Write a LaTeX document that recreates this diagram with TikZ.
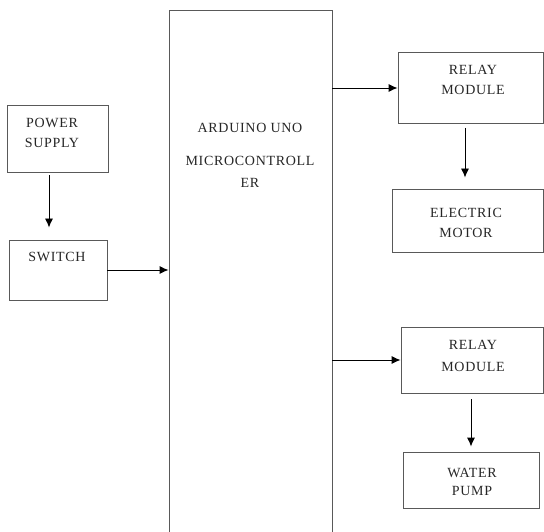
\documentclass[tikz,border=0pt]{standalone}
\usepackage{fontspec}
\setmainfont{Liberation Serif}[LetterSpace=5]
\usepackage{tikz}
\usetikzlibrary{arrows,arrows.meta,positioning}

\begin{document}
\begin{tikzpicture}[x=1pt,y=-1pt,->,>={Latex[length=9pt,width=8pt]},line width=0.9pt]
  \tikzstyle{block}=[draw=black!65,line width=0.9pt,rectangle,inner sep=0pt]
  \tikzstyle{lbl}=[text=black!85,font=\fontsize{14}{16}\selectfont,align=center,inner sep=0pt]
  \useasboundingbox (0,0) rectangle (544,532);

  % boxes
  \node[block,minimum width=101pt,minimum height=67pt]  (power)  at (57.5,138.5) {};
  \node[block,minimum width=98pt,minimum height=60pt]   (switch) at (58,270)    {};
  \node[block,minimum width=163pt,minimum height=530pt] (uno)    at (250.5,275)  {};
  \node[block,minimum width=145pt,minimum height=71pt]  (relayA) at (470.5,88)  {};
  \node[block,minimum width=151pt,minimum height=63pt]  (motor)  at (467.5,220.5) {};
  \node[block,minimum width=142pt,minimum height=66pt]  (relayB) at (472,360)   {};
  \node[block,minimum width=136pt,minimum height=56pt]  (pump)   at (471,480)   {};

  % texts
  \node[lbl] (powertxt)  at (52,133)  {POWER\\[4pt]SUPPLY};
  \node[lbl] (switchtxt) at (57,257)  {SWITCH};
  \node[lbl] (unotxt)    at (250,155) {ARDUINO UNO\\[17pt]MICROCONTROLL\\[6pt]ER};
  \node[lbl] (relayAtxt) at (473,80)  {RELAY\\[4pt]MODULE};
  \node[lbl] (motortxt)  at (466,223) {ELECTRIC\\[4pt]MOTOR};
  \node[lbl] (relayBtxt) at (473,356) {RELAY\\[6pt]MODULE};
  \node[lbl] (pumptxt)   at (472,482) {WATER\\[2pt]PUMP};

  % arrows
  \draw ([xshift=-8.5pt,yshift=-3pt]power.south) -- ([xshift=-9pt,yshift=12pt]switch.north);
  \draw (switch.east) -- (switch.east -| uno.west);
  \draw (uno.east |- relayA.west) -- (relayA.west);
  \draw ([xshift=-2.5pt,yshift=-4pt]relayA.south -| motor.north) -- ([xshift=-2.5pt,yshift=11pt]motor.north);
  \draw (uno.east |- relayB.west) -- (relayB.west);
  \draw ([yshift=-6pt]relayB.south -| pump.north) -- ([yshift=5pt]pump.north);
\end{tikzpicture}
\end{document}
